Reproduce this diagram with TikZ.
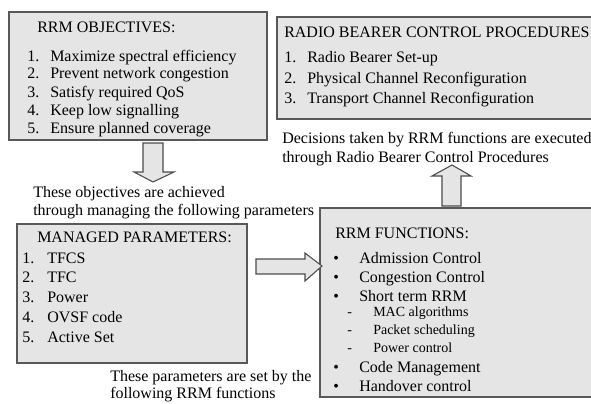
\documentclass[tikz,border=0pt]{standalone}
\usepackage{fontspec}
\setmainfont{Liberation Serif}
\begin{document}
\begin{tikzpicture}[x=0.75pt,y=-0.75pt,
  panel/.style={draw=black!65,line width=1.1pt,fill=black!10},
  blockarrow/.style={draw=black!70,line width=0.8pt,fill=black!10,line join=miter},
  txt/.style={anchor=base west,inner sep=0pt,font=\fontsize{12}{14}\selectfont},
  subtxt/.style={anchor=base west,inner sep=0pt,font=\fontsize{10.5}{12}\selectfont}]
\clip (0,0) rectangle (591,403);
\fill[white] (0,0) rectangle (591,403);

% panels
\draw[panel] (9,12) rectangle (267,140) node[pos=0,anchor=north west,inner sep=0pt] (obj) {};
\draw[panel] (277,17) rectangle (610,119) node[pos=0,anchor=north west,inner sep=0pt] (rbc) {};
\draw[panel] (17,224) rectangle (247,363) node[pos=0,anchor=north west,inner sep=0pt] (par) {};
\draw[panel] (320,208) rectangle (610,397) node[pos=0,anchor=north west,inner sep=0pt] (fun) {};

% block arrows
\draw[blockarrow] (143,143) -- (163,143) -- (163,172) -- (174,172) -- (153,182)
  -- (134,172) -- (143,172) -- cycle;
\draw[blockarrow] (256,259) -- (305,259) -- (305,253) -- (322,266) -- (305,281)
  -- (305,274) -- (256,274) -- cycle;
\draw[blockarrow] (442,206) -- (442,176) -- (432,176) -- (452,165) -- (471,176)
  -- (461,176) -- (461,206) -- cycle;

% RRM objectives
\node[txt] (objh) at (37,33) {RRM OBJECTIVES:};
\foreach \n/\t/\y in {1/Maximize spectral efficiency/61,2/Prevent network congestion/79,
  3/Satisfy required QoS/97,4/Keep low signalling/115,5/Ensure planned coverage/133}{
  \node[txt] (objn\n) at (27,\y) {\n.};
  \node[txt] (obji\n) at (50,\y) {\t};
}

% radio bearer control procedures
\node[txt] (rbch) at (284,38) {RADIO BEARER CONTROL PROCEDURES};
\foreach \n/\t/\y in {1/Radio Bearer Set-up/63,2/Physical Channel Reconfiguration/83,
  3/Transport Channel Reconfiguration/103}{
  \node[txt] (rbcn\n) at (284,\y) {\n.};
  \node[txt] (rbci\n) at (307,\y) {\t};
}
\node[txt] (dec1) at (282,143) {Decisions taken by RRM functions are executed};
\node[txt] (dec2) at (282,162) {through Radio Bearer Control Procedures};

% notes on the left
\node[txt] (ach1) at (33,197) {These objectives are achieved};
\node[txt] (ach2) at (33,215) {through managing the following parameters};
\node[txt] (set1) at (110,381) {These parameters are set by the};
\node[txt] (set2) at (110,398) {following RRM functions};

% managed parameters
\node[txt] (parh) at (37,242) {MANAGED PARAMETERS:};
\foreach \n/\t/\y in {1/TFCS/263,2/TFC/282,3/Power/302,4/OVSF code/322,5/Active Set/342}{
  \node[txt] (parn\n) at (22,\y) {\n.};
  \node[txt] (pari\n) at (47,\y) {\t};
}

% RRM functions
\node[txt] (funh) at (335,238) {RRM FUNCTIONS:};
\foreach \k/\t/\y in {1/Admission Control/263,2/Congestion Control/282,3/Short term RRM/301,
  4/Code Management/372,5/Handover control/391}{
  \node[txt] (funb\k) at (333,\y) {\textbullet};
  \node[txt] (funi\k) at (359,\y) {\t};
}
\foreach \k/\t/\y in {1/MAC algorithms/316,2/Packet scheduling/334,3/Power control/352}{
  \node[subtxt] (fund\k) at (347,\y) {-};
  \node[subtxt] (funs\k) at (373,\y) {\t};
}
\end{tikzpicture}
\end{document}
